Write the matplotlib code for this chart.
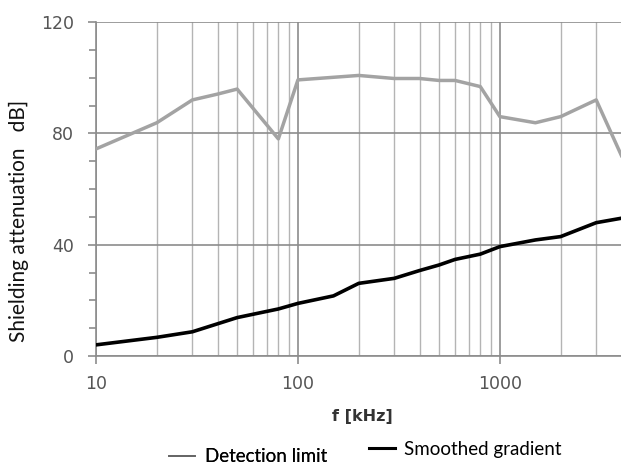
import matplotlib
matplotlib.use("Agg")
import matplotlib.pyplot as plt
from matplotlib.ticker import FixedLocator, NullFormatter, FixedFormatter
from matplotlib.lines import Line2D

# Data
freq_limit = [10, 20, 30, 40, 50, 80, 100, 200, 300, 400, 500, 600, 800, 1000, 1500, 2000, 3000, 4000]
det_limit = [74.4, 83.8, 92, 94.1, 95.9, 78, 99.2, 100.8, 99.7, 99.7, 99.0, 99.0, 96.8, 86, 83.8, 86, 92, 72]
freq_smooth = [10, 20, 30, 50, 80, 100, 150, 200, 300, 400, 500, 600, 800, 1000, 1500, 2000, 3000, 4000]
smoothed = [4.0, 6.7, 8.7, 13.8, 16.9, 18.9, 21.6, 26.1, 27.9, 30.7, 32.7, 34.7, 36.6, 39.3, 41.7, 42.9, 47.9, 49.5]
y_ticks = [0, 40, 80, 120]
x_ticks = [10, 100, 1000]
x_ticklabels = ["10", "100", "1000"]
legend_labels = ["Detection limit", "Smoothed gradient"]

W, H = 621, 467
fig = plt.figure(figsize=(W / 100, H / 100), dpi=100)
ax = fig.add_axes([96 / W, 1 - 356 / H, 1 - 96 / W, (356 - 22) / H])

ax.set_xscale("log")
ax.set_xlim(10, 3980)
ax.set_ylim(0, 120)

# vertical grid lines
minor_x = [v * d for d in (10, 100, 1000) for v in range(2, 10) if v * d < 3980]
for xv in minor_x:
    ax.axvline(xv, color="#b4b4b4", lw=1.0, zorder=1)
for xv in x_ticks:
    ax.axvline(xv, color="#8c8c8c", lw=1.2, zorder=1)
for yv in y_ticks:
    ax.axhline(yv, color="#8c8c8c", lw=1.2, zorder=1)

ax.plot(freq_limit, det_limit, color="#a3a3a3", lw=2.5, zorder=3)
ax.plot(freq_smooth, smoothed, color="#000000", lw=2.6, zorder=4)

for s in ["top", "right"]:
    ax.spines[s].set_visible(False)
ax.spines["left"].set_color("#8c8c8c")
ax.spines["bottom"].set_color("#8c8c8c")
ax.spines["left"].set_linewidth(1.2)
ax.spines["bottom"].set_linewidth(1.2)

ax.yaxis.set_major_locator(FixedLocator(y_ticks))
ax.yaxis.set_minor_locator(FixedLocator([10, 20, 30, 50, 60, 70, 90, 100, 110]))
ax.yaxis.set_minor_formatter(NullFormatter())
ax.xaxis.set_major_locator(FixedLocator(x_ticks))
ax.xaxis.set_major_formatter(FixedFormatter(x_ticklabels))
ax.xaxis.set_minor_locator(FixedLocator([]))

ax.tick_params(axis="both", which="both", color="#8c8c8c", width=1.2)
ax.tick_params(axis="y", which="major", length=6, pad=10)
ax.tick_params(axis="y", which="minor", length=5)
ax.tick_params(axis="x", which="major", length=6, pad=8)

for lab in ax.get_xticklabels() + ax.get_yticklabels():
    lab.set_fontfamily("DejaVu Sans")
    lab.set_fontsize(12.5)
    lab.set_color("#555555")

fig.text(19 / W, 1 - 221 / H, "Shielding attenuation   dB]", rotation=90,
         ha="center", va="center", fontsize=15, family="Lato", color="#111111")
fig.text(362 / W, 1 - 416 / H, "f [kHz]", ha="center", va="center",
         fontsize=11.5, fontweight="bold", family="DejaVu Sans", color="#333333")

h1 = Line2D([], [], color="#666666", lw=1.3)
h2 = Line2D([], [], color="#000000", lw=2.2)
leg1 = fig.legend([h1], [legend_labels[0]], loc="center", bbox_to_anchor=(248 / W, 1 - 457 / H),
                  frameon=False, handlelength=1.4, handletextpad=0.55,
                  prop={"family": "Lato", "size": 13.5})
leg2 = fig.legend([h2], [legend_labels[1]], loc="center", bbox_to_anchor=(465 / W, 1 - 449 / H),
                  frameon=False, handlelength=1.4, handletextpad=0.45,
                  prop={"family": "Lato", "size": 13.5})
fig.add_artist(leg1)

fig.savefig("out.png", dpi=100)
